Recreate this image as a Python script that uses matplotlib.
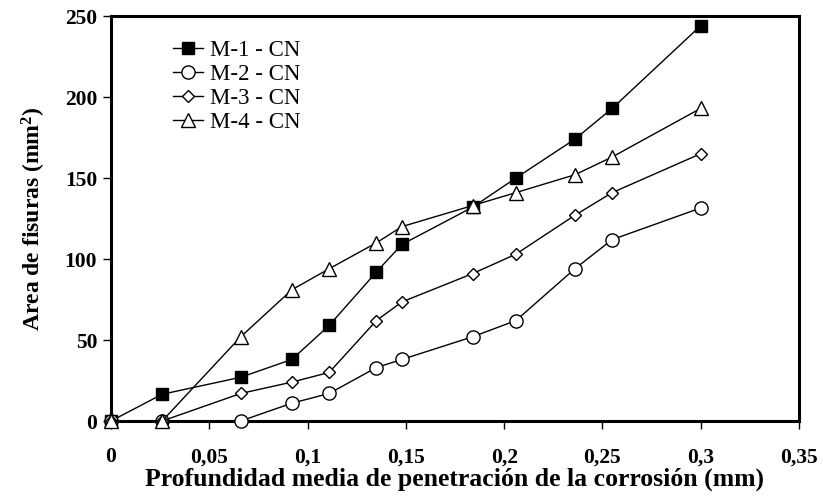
"""Crack area vs. mean corrosion penetration depth."""

import matplotlib.pyplot as plt

plt.rcParams["font.family"] = ["Liberation Serif", "DejaVu Serif"]
plt.rcParams["mathtext.fontset"] = "custom"
plt.rcParams["mathtext.rm"] = "Liberation Serif:bold"
plt.rcParams["mathtext.it"] = "Liberation Serif:bold"
plt.rcParams["mathtext.bf"] = "Liberation Serif:bold"

# data
depth_mm = [0, 0.026, 0.066, 0.092, 0.111, 0.135, 0.148, 0.184, 0.206, 0.236, 0.255, 0.300]
m1_cn = [0, 16.5, 27, 38, 59, 92, 109, 132, 150, 174, 193, 244]
m2_cn = [0, 0, 0, 11, 17, 33, 38, 52, 62, 94, 112, 131.5]
m3_cn = [0, 0, 17, 24, 30, 62, 73.5, 91, 103, 127, 141, 165]
m4_cn = [0, 0, 52, 81, 94, 110, 120, 133, 141, 152, 163, 193]

x_ticks = [0, 0.05, 0.1, 0.15, 0.2, 0.25, 0.3, 0.35]
x_tick_labels = ["0", "0,05", "0,1", "0,15", "0,2", "0,25", "0,3", "0,35"]
y_ticks = [0, 50, 100, 150, 200, 250]

fig = plt.figure(figsize=(8.23, 4.96), dpi=100)
ax = fig.add_axes([0.1349, 0.1512, 0.8359, 0.8165])

series = [
    (m1_cn, "M-1 - CN", "s", "black", 9),
    (m2_cn, "M-2 - CN", "o", "white", 9.5),
    (m3_cn, "M-3 - CN", "D", "white", 6.5),
    (m4_cn, "M-4 - CN", "^", "white", 9.5),
]
for values, label, marker, face, size in series:
    ax.plot(depth_mm, values, color="black", linewidth=1, marker=marker,
            markersize=size, markerfacecolor=face, markeredgecolor="black",
            markeredgewidth=1, label=label, clip_on=False, zorder=3)

ax.set_xlim(0, 0.35)
ax.set_ylim(0, 250)
ax.set_xticks(x_ticks)
ax.set_xticklabels(x_tick_labels)
ax.set_yticks(y_ticks)
ax.tick_params(direction="out", length=6, width=1, labelsize=15.5)
ax.tick_params(axis="x", pad=13)
ax.tick_params(axis="y", pad=4)
for lab in ax.get_xticklabels() + ax.get_yticklabels():
    lab.set_fontweight("bold")
for spine in ax.spines.values():
    spine.set_linewidth(2.2)

ax.set_xlabel("Profundidad media de penetración de la corrosión (mm)",
              fontsize=18.5, fontweight="bold", labelpad=0)
ax.set_ylabel(r"Area de fisuras (mm$^2$)", fontsize=17, fontweight="bold",
              labelpad=12)

ax.legend(loc="upper left", bbox_to_anchor=(0.09, 0.94), frameon=False,
          fontsize=16.5, handlelength=1.3, handletextpad=0.3,
          labelspacing=0.12, borderaxespad=0, borderpad=0)

fig.savefig("out.png", dpi=100)
